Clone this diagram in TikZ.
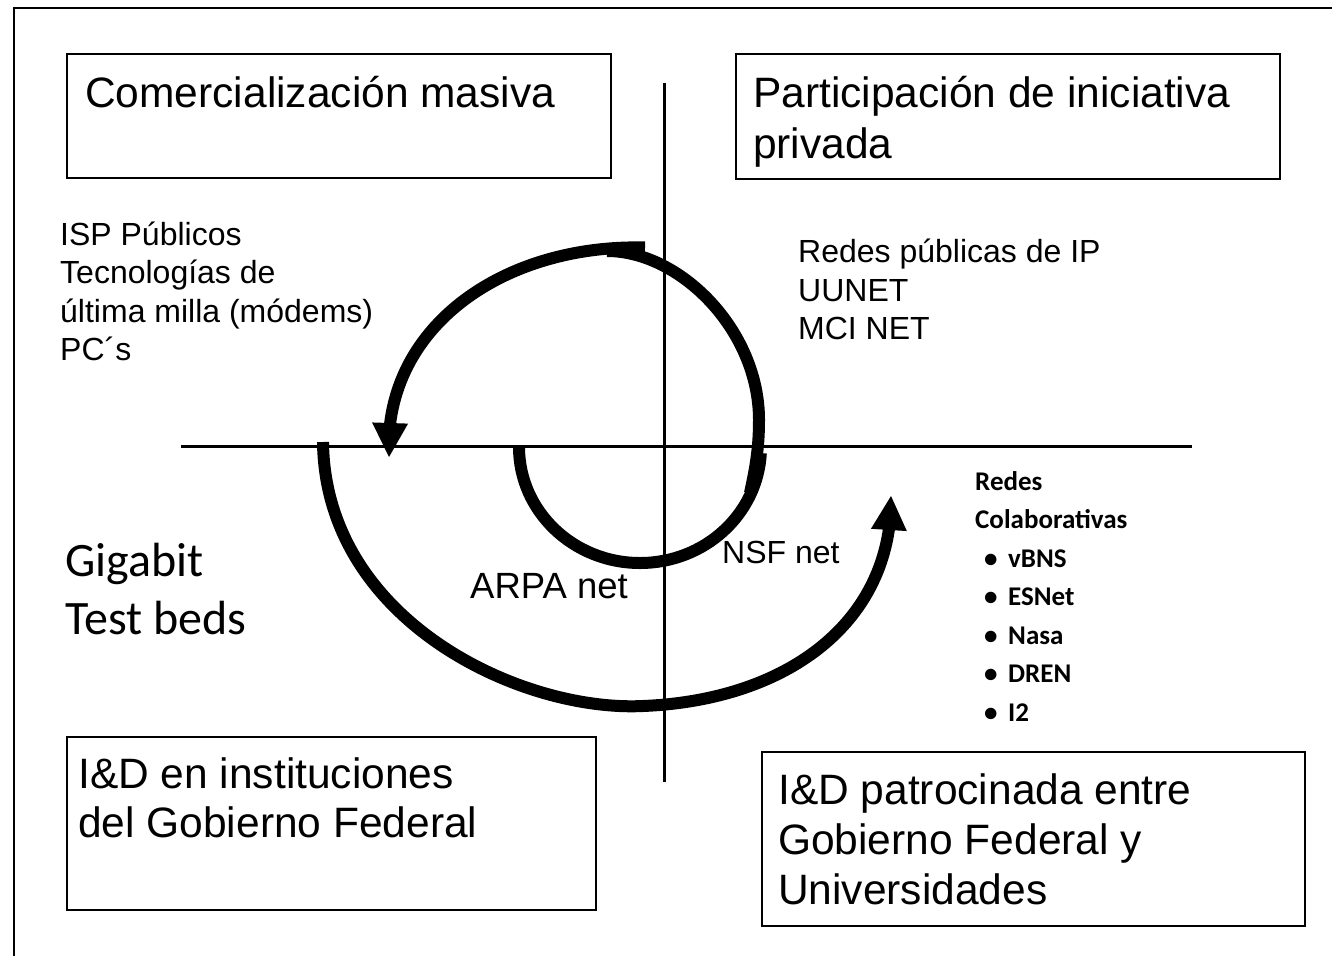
\documentclass[tikz,border=0pt]{standalone}
\usepackage{fontspec}
\setmainfont{Liberation Sans}
\newfontfamily\calibri{Carlito}
\usetikzlibrary{arrows.meta,bending}
\begin{document}
\begin{tikzpicture}[x=1pt,y=-1pt,
  frame/.style={line width=2pt,line join=miter},
  axis/.style={line width=3pt},
  qbox/.style={line width=2.3pt},
  spiral/.style={line width=12pt},
  arrowed/.style={-{Triangle[width=36pt,length=34pt,line width=0pt]}},
  big/.style={anchor=base west,inner sep=0pt,font=\fontsize{42.5}{51}\selectfont},
  mid/.style={anchor=base west,inner sep=0pt,font=\fontsize{32}{38.5}\selectfont},
  arpa/.style={anchor=base west,inner sep=0pt,font=\fontsize{36.5}{42}\selectfont},
  calib/.style={anchor=base west,inner sep=0pt,font=\calibri\fontsize{48}{58}\selectfont},
  bul/.style={anchor=base west,inner sep=0pt,font=\calibri\bfseries\fontsize{27}{38}\selectfont}]
\useasboundingbox (0,0) rectangle (1332,956);
% outer frame
\draw[frame] (14,956) -- (14,8) -- (1332,8);
% quadrant boxes
\draw[qbox] (67,54) rectangle (611,178);
\draw[qbox] (736,54) rectangle (1280,179);
\draw[qbox] (67,737) rectangle (596,910);
\draw[qbox] (762,752) rectangle (1305,926);
% axes
\draw[axis] (664,83) -- (664,782);
\draw[axis] (181,446.5) -- (1192,446.5);
% spiral
\draw[spiral] (519,447) arc[start angle=180,end angle=3,x radius=121,y radius=116];
\draw[spiral] (750,493) .. controls (755,470) and (759,450) .. (759,420)
  .. controls (759,330) and (680,251) .. (607,251);
\draw[spiral,arrowed] (645,247.5) .. controls (500,244) and (382,330) .. (389,457);
\draw[spiral,arrowed] (323,442) .. controls (325,620) and (520,712) .. (643,706)
  .. controls (790,700) and (893,620) .. (891,496);
% box texts
\node[big] (c1) at (85,107) {Comercialización masiva};
\node[big] (p1) at (753,107) {Participación de iniciativa};
\node[big] (p2) at (753,158) {privada};
\node[big] (g1) at (78,788) {I\&D en instituciones};
\node[big] (g2) at (78,837) {del Gobierno Federal};
\node[big] (u1) at (778,804) {I\&D patrocinada entre};
\node[big] (u2) at (778,854) {Gobierno Federal y};
\node[big] (u3) at (778,904) {Universidades};
% left upper text
\node[mid] (l1) at (60,245) {ISP Públicos};
\node[mid] (l2) at (60,283.5) {Tecnologías de};
\node[mid] (l3) at (60,322) {última milla (módems)};
\node[mid] (l4) at (60,360.5) {PC´s};
% right upper text
\node[mid] (r1) at (798,262.5) {Redes públicas de IP};
\node[mid] (r2) at (798,301) {UUNET};
\node[mid] (r3) at (798,339.5) {MCI NET};
% spiral labels
\node[arpa] (arpa) at (470,598) {ARPA net};
\node[mid] (nsf) at (722,563) {NSF net};
% left lower text
\node[calib] (gb1) at (65,576) {Gigabit};
\node[calib] (gb2) at (65,634) {Test beds};
% collaborative networks
\node[bul] (rc1) at (975,490) {Redes};
\node[bul] (rc2) at (975,528.5) {Colaborativas};
\node[bul] (b1) at (984,567) {•};
\node[bul] (i1) at (1008,567) {vBNS};
\node[bul] (b2) at (984,605.5) {•};
\node[bul] (i2) at (1008,605.5) {ESNet};
\node[bul] (b3) at (984,644) {•};
\node[bul] (i3) at (1008,644) {Nasa};
\node[bul] (b4) at (984,682.5) {•};
\node[bul] (i4) at (1008,682.5) {DREN};
\node[bul] (b5) at (984,721) {•};
\node[bul] (i5) at (1008,721) {I2};
\end{tikzpicture}
\end{document}
